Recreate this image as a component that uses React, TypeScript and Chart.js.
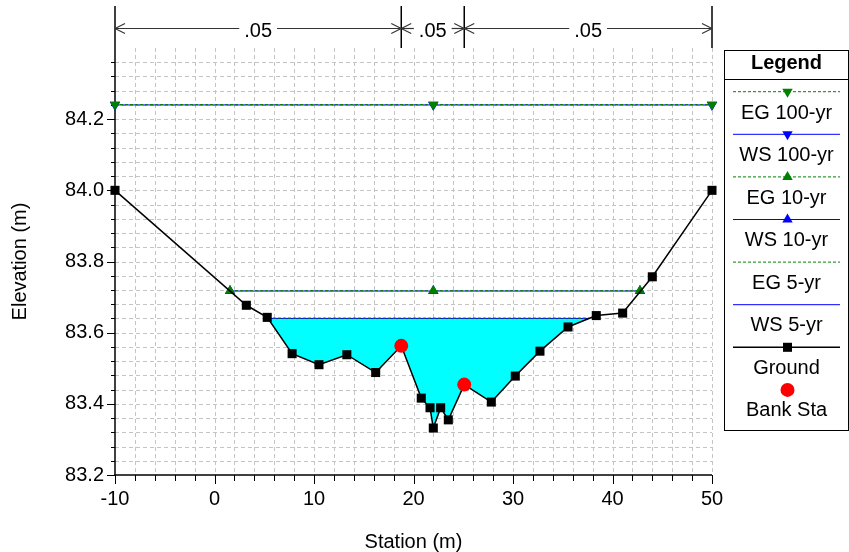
import React, { useEffect, useRef } from 'react';
import { Chart, registerables } from 'chart.js';

Chart.register(...registerables);

const W = 849;
const H = 552;
const FONT = "'Liberation Sans', Arial, Helvetica, sans-serif";

// ---- Data ----
const groundStation = [-10, 3.2, 5.3, 7.8, 10.5, 13.3, 16.2, 18.77, 20.78, 21.66, 21.99, 22.73, 23.5, 25.1, 27.82, 30.23, 32.71, 35.53, 38.37, 41.02, 44.0, 50];
const groundElev = [84.0, 83.677, 83.643, 83.541, 83.51, 83.538, 83.488, 83.563, 83.416, 83.389, 83.332, 83.389, 83.355, 83.454, 83.405, 83.478, 83.548, 83.616, 83.648, 83.655, 83.757, 84.0];

const bankStation = [18.77, 25.1];
const bankElev = [83.563, 83.454];

const nValues = ['.05', '.05', '.05'];

const legendLabels = ['EG 100-yr', 'WS 100-yr', 'EG 10-yr', 'WS 10-yr', 'EG 5-yr', 'WS 5-yr', 'Ground', 'Bank Sta'];

const eg100 = 84.241;
const ws100 = 84.24;
const stations100 = [-10, 21.99, 50];

const eg10 = 83.718;
const ws10 = 83.717;
const stations10 = [1.56, 21.99, 42.76];

const eg5 = 83.641;
const ws5 = 83.64;
const stations5 = [5.37, 37.66];

const xMin = -10;
const xMax = 50;
const xMajorStep = 10;
const xMinorStep = 2;
const yMin = 83.2;
const yMax = 84.4;
const yMajorStep = 0.2;
const yMinorStep = 0.04;

const xTitle = 'Station (m)';
const yTitle = 'Elevation (m)';

const GREEN = '#008000';
const BLUE = '#0000ff';

const pts = (xs: number[], y: number) => xs.map((x) => ({ x, y }));

function drawMarker(ctx: CanvasRenderingContext2D, style: string, x: number, y: number, r: number, color: string, rot: number) {
  ctx.save();
  ctx.fillStyle = color;
  ctx.beginPath();
  if (style === 'triangle') {
    let a = (rot * Math.PI) / 180;
    ctx.moveTo(x + Math.sin(a) * r, y - Math.cos(a) * r);
    a += (2 * Math.PI) / 3;
    ctx.lineTo(x + Math.sin(a) * r, y - Math.cos(a) * r);
    a += (2 * Math.PI) / 3;
    ctx.lineTo(x + Math.sin(a) * r, y - Math.cos(a) * r);
    ctx.closePath();
  } else if (style === 'rect') {
    const s = Math.SQRT1_2 * r;
    ctx.rect(x - s, y - s, 2 * s, 2 * s);
  } else {
    ctx.arc(x, y, r, 0, Math.PI * 2);
  }
  ctx.fill();
  ctx.restore();
}

const decor = {
  id: 'decor',
  beforeDatasetsDraw(chart: any) {
    const { ctx, chartArea: a, scales } = chart;
    const xs = scales.x;
    const ys = scales.y;
    const seg = (x0: number, y0: number, x1: number, y1: number) => {
      ctx.beginPath();
      ctx.moveTo(x0, y0);
      ctx.lineTo(x1, y1);
      ctx.stroke();
    };
    ctx.save();
    // grid
    ctx.strokeStyle = '#c4c4c4';
    ctx.lineWidth = 1;
    ctx.setLineDash([4, 3]);
    const nx = Math.round((xMax - xMin) / xMinorStep);
    for (let i = 1; i <= nx; i++) {
      const px = Math.round(xs.getPixelForValue(xMin + i * xMinorStep)) + 0.5;
      seg(px, a.top, px, a.bottom);
    }
    const ny = Math.round((yMax - yMin) / yMinorStep);
    for (let i = 1; i < ny; i++) {
      const py = Math.round(ys.getPixelForValue(yMin + i * yMinorStep)) + 0.5;
      seg(a.left, py, a.right, py);
    }
    ctx.setLineDash([]);
    // tick marks
    ctx.strokeStyle = '#000';
    ctx.lineWidth = 1;
    const xr = Math.round(xMajorStep / xMinorStep);
    for (let i = 0; i <= nx; i++) {
      const px = Math.round(xs.getPixelForValue(xMin + i * xMinorStep)) + 0.5;
      seg(px, a.bottom, px, a.bottom + (i % xr === 0 ? 9 : 6));
    }
    const yr = Math.round(yMajorStep / yMinorStep);
    for (let i = 0; i < ny; i++) {
      const py = Math.round(ys.getPixelForValue(yMin + i * yMinorStep)) + 0.5;
      seg(a.left - (i % yr === 0 ? 8 : 4), py, a.left, py);
    }
    // axes
    ctx.lineWidth = 1.5;
    seg(a.left, a.top, a.left, a.bottom + 0.75);
    seg(a.left - 0.75, a.bottom, a.right, a.bottom);
    ctx.restore();
  },
  afterDraw(chart: any) {
    const { ctx, chartArea: a, scales } = chart;
    const xs = scales.x;
    const seg = (x0: number, y0: number, x1: number, y1: number) => {
      ctx.beginPath();
      ctx.moveTo(x0, y0);
      ctx.lineTo(x1, y1);
      ctx.stroke();
    };
    ctx.save();
    ctx.fillStyle = '#000';
    ctx.font = `20px ${FONT}`;
    ctx.textAlign = 'center';
    ctx.textBaseline = 'alphabetic';
    // axis titles
    ctx.fillText(xTitle, (a.left + a.right) / 2, 548);
    ctx.save();
    ctx.translate(26, (a.top + a.bottom) / 2);
    ctx.rotate(-Math.PI / 2);
    ctx.fillText(yTitle, 0, 0);
    ctx.restore();

    // Manning's n annotations
    const breaks = [groundStation[0], ...bankStation, groundStation[groundStation.length - 1]];
    const bp = breaks.map((b) => xs.getPixelForValue(b));
    ctx.strokeStyle = '#000';
    ctx.lineWidth = 1.5;
    bp.forEach((p) => seg(p, 6, p, a.top));
    const ay = 28.5;
    ctx.strokeStyle = '#333';
    ctx.lineWidth = 1.2;
    for (let i = 0; i < nValues.length; i++) {
      const x0 = bp[i];
      const x1 = bp[i + 1];
      const mid = (x0 + x1) / 2;
      const tw = ctx.measureText(nValues[i]).width;
      seg(x0, ay, mid - tw / 2 - 5, ay);
      seg(mid + tw / 2 + 5, ay, x1, ay);
      seg(x0, ay, x0 + 10, ay - 5);
      seg(x0, ay, x0 + 10, ay + 5);
      seg(x1, ay, x1 - 10, ay - 5);
      seg(x1, ay, x1 - 10, ay + 5);
      ctx.fillText(nValues[i], mid, 37);
    }

    // legend
    const L = 724.5;
    const R = 848.5;
    const T = 50.5;
    const B = 430.5;
    const cx = (L + R) / 2;
    ctx.strokeStyle = '#000';
    ctx.lineWidth = 1;
    ctx.strokeRect(L, T, R - L, B - T);
    seg(L, 79.5, R, 79.5);
    ctx.font = `bold 20px ${FONT}`;
    ctx.fillText('Legend', cx, 68.5);
    ctx.font = `20px ${FONT}`;
    const dss = chart.data.datasets;
    for (let i = 0; i < legendLabels.length; i++) {
      const ds = dss[i];
      const ly = 91.7 + i * 42.6;
      if (ds.showLine !== false) {
        ctx.save();
        ctx.strokeStyle = ds.borderColor;
        ctx.lineWidth = ds.borderWidth;
        ctx.setLineDash(ds.borderDash || []);
        seg(733, ly, 840, ly);
        ctx.restore();
      }
      if (ds.pointRadius > 0) {
        drawMarker(ctx, ds.pointStyle, 787.5, ly, ds.pointRadius, ds.pointBackgroundColor, ds.pointRotation || 0);
      }
      ctx.fillStyle = '#000';
      ctx.fillText(legendLabels[i], cx, 118.5 + i * 42.5);
    }
    ctx.restore();
  },
};

export default function App() {
  const ref = useRef<HTMLCanvasElement | null>(null);

  useEffect(() => {
    const canvas = ref.current;
    if (!canvas) return;
    const base = { clip: false as any, tension: 0, fill: false as any };
    const thin = { borderWidth: 1, pointBorderWidth: 0 };
    const datasets: any[] = [
      { ...base, ...thin, label: legendLabels[0], data: pts(stations100, eg100), borderColor: GREEN, borderDash: [3, 2], pointStyle: 'triangle', pointRotation: 180, pointRadius: 6, pointBackgroundColor: GREEN, pointBorderColor: GREEN },
      { ...base, ...thin, label: legendLabels[1], data: pts(stations100, ws100), borderColor: BLUE, pointStyle: 'triangle', pointRotation: 180, pointRadius: 6, pointBackgroundColor: BLUE, pointBorderColor: BLUE },
      { ...base, ...thin, label: legendLabels[2], data: pts(stations10, eg10), borderColor: GREEN, borderDash: [3, 2], pointStyle: 'triangle', pointRotation: 0, pointRadius: 6, pointBackgroundColor: GREEN, pointBorderColor: GREEN },
      { ...base, ...thin, label: legendLabels[3], data: pts(stations10, ws10), borderColor: BLUE, pointStyle: 'triangle', pointRotation: 0, pointRadius: 6, pointBackgroundColor: BLUE, pointBorderColor: BLUE },
      { ...base, ...thin, label: legendLabels[4], data: pts(stations5, eg5), borderColor: GREEN, borderDash: [3, 2], pointRadius: 0 },
      { ...base, ...thin, label: legendLabels[5], data: pts(stations5, ws5), borderColor: BLUE, pointRadius: 0, fill: 6, backgroundColor: '#00ffff' },
      { ...base, label: legendLabels[6], data: groundStation.map((x, i) => ({ x, y: groundElev[i] })), borderColor: '#000', borderWidth: 1.5, pointStyle: 'rect', pointRadius: 6.4, pointBackgroundColor: '#000', pointBorderColor: '#000', pointBorderWidth: 0, order: -2 },
      { ...base, label: legendLabels[7], data: bankStation.map((x, i) => ({ x, y: bankElev[i] })), showLine: false, pointStyle: 'circle', pointRadius: 7, pointBackgroundColor: '#ff0000', pointBorderColor: '#ff0000', pointBorderWidth: 0, order: -3 },
    ];
    const chart = new Chart(canvas, {
      type: 'line',
      data: { datasets },
      options: {
        responsive: false,
        maintainAspectRatio: false,
        animation: false,
        events: [],
        devicePixelRatio: 1,
        layout: { padding: { top: 48, right: 137, left: 0, bottom: 0 } },
        plugins: { legend: { display: false }, tooltip: { enabled: false }, title: { display: false } },
        scales: {
          x: {
            type: 'linear',
            min: xMin,
            max: xMax,
            grid: { display: false, drawTicks: false },
            border: { display: false },
            ticks: { stepSize: xMajorStep, padding: 12, color: '#000', font: { family: FONT, size: 20 }, maxRotation: 0, autoSkip: false },
            afterFit: (s: any) => { s.height = 77; },
          },
          y: {
            type: 'linear',
            min: yMin,
            max: yMax,
            grid: { display: false, drawTicks: false },
            border: { display: false },
            ticks: {
              stepSize: yMajorStep,
              padding: 11,
              color: '#000',
              font: { family: FONT, size: 20 },
              autoSkip: false,
              callback: (v: any) => (Math.abs(Number(v) - yMax) < 1e-6 ? '' : Number(v).toFixed(1)),
            },
            afterFit: (s: any) => { s.width = 115; },
          },
        },
      } as any,
      plugins: [decor],
    });
    return () => chart.destroy();
  }, []);

  return (
    <div style={{ position: 'fixed', left: 0, top: 0, width: W, height: H, background: '#fff' }}>
      <canvas ref={ref} width={W} height={H} style={{ width: W, height: H, display: 'block' }} />
    </div>
  );
}
